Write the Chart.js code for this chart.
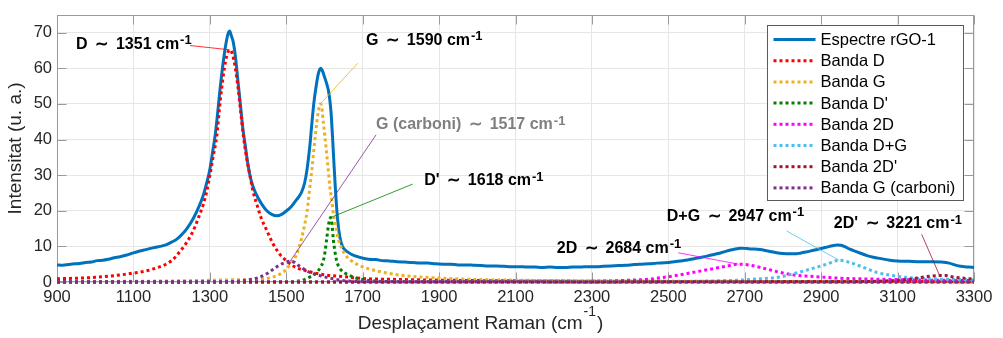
<!DOCTYPE html>
<html>
<head>
<meta charset="utf-8">
<script src="https://cdn.jsdelivr.net/npm/chart.js@4"></script>
<style>
  html, body { margin: 0; padding: 0; background: #fff; }
</style>
</head>
<body>
<canvas id="ramanChart" width="1003" height="338"></canvas>
<script>
// ===== Espectre Raman rGO-1 amb la deconvolució en bandes =====

const FONT = '"Liberation Sans", Arial, Helvetica, sans-serif';
const INK = '#262626';

// Eixos
const xTickValues = [900, 1100, 1300, 1500, 1700, 1900, 2100, 2300, 2500, 2700, 2900, 3100, 3300];
const yTickValues = [0, 10, 20, 30, 40, 50, 60, 70];

// Espectre mesurat
const spectreX = [
  900, 915, 930, 945, 960, 975, 990, 1005, 1020, 1035, 1050, 1065, 1080, 1095, 1110, 1125, 1140, 1155, 1170, 1185,
  1200, 1212, 1222, 1240, 1257, 1270, 1283, 1292, 1300, 1307, 1314, 1320, 1327, 1335, 1342, 1348, 1352, 1356, 1361, 1367,
  1373, 1380, 1386, 1393, 1399, 1405, 1413, 1422, 1435, 1449, 1462, 1475, 1488, 1501, 1514, 1527, 1540, 1548, 1554, 1562,
  1567, 1572, 1578, 1584, 1590, 1595, 1600, 1606, 1612, 1617, 1621, 1625, 1629, 1634, 1640, 1647, 1655, 1670, 1690, 1715,
  1735, 1750, 1770, 1790, 1810, 1830, 1850, 1870, 1890, 1910, 1930, 1950, 1970, 1990, 2010, 2030, 2050, 2070, 2090, 2110,
  2130, 2150, 2170, 2190, 2210, 2230, 2250, 2270, 2290, 2310, 2330, 2350, 2370, 2390, 2410, 2430, 2450, 2470, 2490, 2510,
  2530, 2550, 2570, 2590, 2610, 2630, 2650, 2670, 2690, 2705, 2720, 2740, 2760, 2780, 2800, 2815, 2830, 2845, 2860, 2880,
  2900, 2915, 2930, 2942, 2952, 2962, 2975, 2990, 3005, 3020, 3040, 3060, 3080, 3100, 3130, 3160, 3190, 3215, 3235, 3250,
  3265, 3285, 3300
];
const spectreY = [
  4.8, 4.7, 4.9, 5.1, 5.2, 5.5, 5.6, 6.0, 6.1, 6.4, 6.8, 7.1, 7.5, 8.0, 8.5, 8.9, 9.3, 9.7, 10.0, 10.4,
  11.2, 11.9, 12.8, 15.0, 17.9, 20.8, 24.4, 27.9, 31.6, 36.3, 41.2, 47.0, 54.4, 61.7, 66.8, 69.8, 70.5, 69.2, 67.5, 63.3,
  57.0, 49.9, 43.5, 38.1, 33.5, 29.9, 26.8, 24.5, 22.0, 20.0, 19.0, 18.6, 19.0, 20.0, 21.3, 23.1, 25.2, 27.8, 31.3, 38.5,
  44.5, 50.0, 54.8, 58.5, 60.0, 59.2, 57.6, 55.6, 52.8, 48.0, 41.0, 33.0, 25.5, 18.0, 12.8, 10.0, 8.9, 7.8, 7.0, 6.4,
  6.3, 6.0, 5.9, 5.7, 5.6, 5.5, 5.3, 5.3, 5.1, 5.0, 5.0, 4.8, 4.8, 4.7, 4.6, 4.5, 4.5, 4.4, 4.3, 4.3,
  4.2, 4.2, 4.1, 4.2, 4.1, 4.1, 4.2, 4.2, 4.3, 4.3, 4.4, 4.5, 4.6, 4.7, 4.9, 5.0, 5.1, 5.3, 5.4, 5.6,
  5.9, 6.2, 6.6, 7.0, 7.5, 8.0, 8.6, 9.1, 9.5, 9.4, 9.3, 9.1, 8.7, 8.3, 8.0, 7.9, 7.9, 8.1, 8.4, 8.9,
  9.4, 9.8, 10.2, 10.4, 10.3, 9.9, 9.2, 8.6, 8.0, 7.4, 6.9, 6.5, 6.1, 5.9, 5.8, 5.7, 5.7, 5.6, 5.3, 4.8,
  4.4, 4.2, 4.1
];

// Bandes ajustades
const bandaDX = [900, 1000, 1100, 1150, 1200, 1222, 1240, 1257, 1270, 1283, 1292, 1300, 1310, 1318, 1325, 1331, 1338, 1345, 1352, 1359,
  1366, 1374, 1381, 1388, 1396, 1405, 1413, 1423, 1435, 1449, 1465, 1484, 1500, 1518, 1550, 1600, 1650, 1700, 1800, 2000, 2400, 3300];
const bandaDY = [0.9, 1.3, 2.5, 3.6, 6.0, 8.6, 11.2, 14.5, 18.0, 21.8, 25.5, 29.9, 36.0, 40.8, 48.5, 54.4, 60.0, 63.8, 65.2, 64.0,
  60.5, 54.4, 47.5, 40.8, 35.0, 29.9, 25.5, 21.8, 17.8, 14.5, 10.8, 7.7, 6.0, 4.5, 3.2, 2.0, 1.5, 1.0, 0.7, 0.4, 0.2, 0.1];

const bandaGX = [900, 1200, 1350, 1420, 1450, 1480, 1500, 1510, 1527, 1540, 1548, 1554, 1558, 1562, 1567, 1571, 1576, 1580, 1585, 1589,
  1593, 1597, 1601, 1606, 1610, 1614, 1619, 1623, 1629, 1636, 1645, 1654, 1670, 1684, 1719, 1760, 1800, 1900, 2000, 2200, 2600, 3300];
const bandaGY = [0.1, 0.3, 0.6, 0.8, 1.0, 2.0, 3.5, 5.0, 7.7, 12.2, 16.0, 19.5, 23.0, 26.8, 31.5, 35.8, 41.0, 44.9, 48.6, 50.0,
  49.0, 44.9, 41.0, 35.8, 31.5, 26.8, 23.0, 19.5, 16.0, 12.2, 9.5, 7.7, 6.0, 5.0, 3.6, 2.6, 1.9, 1.1, 0.7, 0.4, 0.2, 0.1];

const bandaDpX = [900, 1500, 1545, 1565, 1580, 1590, 1597, 1602, 1606, 1611, 1616, 1620, 1623, 1627, 1632, 1638, 1645, 1660, 1675, 1710, 1800, 3300];
const bandaDpY = [0, 0, 0.6, 1.6, 2.7, 4.2, 5.9, 8.8, 12.2, 16.3, 18.1, 16.0, 12.2, 8.8, 5.9, 4.2, 3.2, 2.1, 1.4, 0.5, 0.1, 0];

const banda2DX = [900, 2200, 2350, 2400, 2450, 2480, 2520, 2565, 2610, 2650, 2684, 2710, 2740, 2770, 2792, 2827, 2870, 2914, 2960, 3000, 3088, 3200, 3300];
const banda2DY = [0, 0.1, 0.3, 0.5, 0.8, 1.2, 1.8, 2.7, 3.6, 4.4, 5.0, 4.8, 4.1, 3.3, 2.7, 2.0, 1.6, 1.3, 1.0, 0.9, 0.7, 0.5, 0.4];

const bandaDGX = [900, 2500, 2650, 2700, 2740, 2792, 2827, 2871, 2914, 2947, 2975, 3001, 3045, 3088, 3130, 3175, 3263, 3300];
const bandaDGY = [0, 0.1, 0.4, 0.6, 0.9, 1.4, 2.3, 3.6, 5.0, 6.1, 5.5, 4.5, 2.7, 1.8, 1.2, 0.9, 0.7, 0.6];

const banda2DpX = [900, 3000, 3100, 3140, 3175, 3210, 3225, 3245, 3270, 3300];
const banda2DpY = [0, 0.1, 0.5, 0.9, 1.5, 1.8, 1.8, 1.4, 1.1, 0.8];

const bandaGcX = [900, 1300, 1350, 1396, 1420, 1431, 1450, 1466, 1480, 1495, 1510, 1520, 1536, 1550, 1562, 1575, 1588, 1605, 1623, 1658, 1700, 3300];
const bandaGcY = [0, 0, 0.1, 0.5, 1.0, 1.4, 2.4, 3.6, 4.6, 5.4, 5.8, 5.6, 4.3, 3.4, 2.7, 2.2, 1.8, 1.3, 0.9, 0.3, 0.1, 0];

const bandes = [
  { label: 'Banda D', color: '#FF0000', xs: bandaDX, ys: bandaDY },
  { label: 'Banda G', color: '#EDB120', xs: bandaGX, ys: bandaGY },
  { label: "Banda D'", color: '#008000', xs: bandaDpX, ys: bandaDpY },
  { label: 'Banda 2D', color: '#FF00FF', xs: banda2DX, ys: banda2DY },
  { label: 'Banda D+G', color: '#4DBEEE', xs: bandaDGX, ys: bandaDGY },
  { label: "Banda 2D'", color: '#A2142F', xs: banda2DpX, ys: banda2DpY },
  { label: 'Banda G (carboni)', color: '#7E2F8E', xs: bandaGcX, ys: bandaGcY },
];

// Etiquetes de pic: posició del text i inici de la línia guia (unitats de dades)
const SIM = '\u2009\u223C\u2009';
const etiquetes = [
  { text: 'D ' + SIM + ' 1351 cm', band: 0, at: [950, 65.5], from: [1248, 66.4], color: '#000' },
  { text: 'G ' + SIM + ' 1590 cm', band: 1, at: [1709, 66.6], from: [1687, 61.4], color: '#000' },
  { text: 'G (carboni) ' + SIM + ' 1517 cm', band: 6, at: [1735, 42.9], from: [1735, 41.3], color: '#7f7f7f' },
  { text: "D' " + SIM + ' 1618 cm', band: 2, at: [1861, 27.2], from: [1831, 27.5], color: '#000' },
  { text: '2D ' + SIM + ' 2684 cm', band: 3, at: [2208, 8.2], from: [2526, 8.2], color: '#000' },
  { text: 'D+G ' + SIM + ' 2947 cm', band: 4, at: [2496, 17.2], from: [2810, 14.3], color: '#000' },
  { text: "2D' " + SIM + ' 3221 cm', band: 5, at: [2933, 15.1], from: [3163, 13.4], color: '#000' },
];

const toPoints = (xs, ys) => xs.map((x, i) => ({ x, y: ys[i] }));

function peakOf(b) {
  let k = 0;
  b.ys.forEach((v, i) => { if (v > b.ys[k]) k = i; });
  return [b.xs[k], b.ys[k]];
}

// Text amb exponent (p. ex. cm^-1)
function drawSup(ctx, x, y, main, sup, tail, size, supSize, rise, weight, centered) {
  const f = s => `${weight} ${s}px ${FONT}`;
  ctx.font = f(size);
  const w1 = ctx.measureText(main).width;
  const w3 = tail ? ctx.measureText(tail).width : 0;
  ctx.font = f(supSize);
  const w2 = ctx.measureText(sup).width;
  const x0 = centered ? x - (w1 + w2 + w3 + 2) / 2 : x;
  ctx.textAlign = 'left';
  ctx.textBaseline = 'alphabetic';
  ctx.font = f(size);
  ctx.fillText(main, x0, y);
  ctx.font = f(supSize);
  ctx.fillText(sup, x0 + w1 + 1, y - rise);
  if (tail) {
    ctx.font = f(size);
    ctx.fillText(tail, x0 + w1 + w2 + 2, y);
  }
}

// Marc de l'eix i marques interiors
const framePlugin = {
  id: 'frame',
  beforeDatasetsDraw(chart) {
    const { ctx, chartArea: a, scales: { x, y } } = chart;
    const L = Math.round(a.left) + 0.5, R = Math.round(a.right) - 0.5;
    const T = Math.round(a.top) + 0.5, B = Math.round(a.bottom) - 0.5;
    ctx.save();
    ctx.strokeStyle = '#9a9a9a';
    ctx.lineWidth = 1;
    ctx.strokeRect(L, T, R - L, B - T);
    ctx.beginPath();
    xTickValues.forEach(v => {
      const px = Math.round(x.getPixelForValue(v)) + 0.5;
      ctx.moveTo(px, B); ctx.lineTo(px, B - 9);
      ctx.moveTo(px, T); ctx.lineTo(px, T + 9);
    });
    yTickValues.forEach(v => {
      const py = Math.round(y.getPixelForValue(v)) + 0.5;
      ctx.moveTo(L, py); ctx.lineTo(L + 9, py);
      ctx.moveTo(R, py); ctx.lineTo(R - 9, py);
    });
    ctx.stroke();
    ctx.restore();
  },
  afterDraw(chart) {
    const { ctx, chartArea: a } = chart;
    ctx.save();
    ctx.fillStyle = INK;
    // títol de l'eix x
    drawSup(ctx, (a.left + a.right) / 2 - 35, chart.height - 9,
      'Desplaçament Raman (cm', '-1', ')', 19, 14, 13, 'normal', true);
    // títol de l'eix y
    ctx.translate(20.5, (a.top + a.bottom) / 2);
    ctx.rotate(-Math.PI / 2);
    ctx.font = `19px ${FONT}`;
    ctx.textAlign = 'center';
    ctx.textBaseline = 'alphabetic';
    ctx.fillText('Intensitat (u. a.)', 0, 0);
    ctx.restore();
  }
};

// Llegenda dins l'àrea del gràfic
const legendPlugin = {
  id: 'insideLegend',
  afterDatasetsDraw(chart) {
    const { ctx, chartArea: a } = chart;
    const left = Math.round(a.right - 207) + 0.5, top = Math.round(a.top + 10) + 0.5;
    const w = 196, h = 175, row = 21.2;
    ctx.save();
    ctx.fillStyle = '#fff';
    ctx.fillRect(left, top, w, h);
    ctx.strokeStyle = '#5a5a5a';
    ctx.lineWidth = 1;
    ctx.strokeRect(left, top, w, h);
    chart.data.datasets.forEach((ds, i) => {
      const cy = top + 14 + i * row;
      ctx.beginPath();
      ctx.strokeStyle = ds.borderColor;
      ctx.lineWidth = ds.borderWidth;
      ctx.setLineDash(ds.borderDash || []);
      ctx.moveTo(left + 6, cy);
      ctx.lineTo(left + 48, cy);
      ctx.stroke();
      ctx.setLineDash([]);
      ctx.fillStyle = '#000';
      ctx.font = `16.5px ${FONT}`;
      ctx.textAlign = 'left';
      ctx.textBaseline = 'middle';
      ctx.fillText(ds.label, left + 53, cy + 1);
    });
    ctx.restore();
  }
};

// Etiquetes dels pics amb línia guia
const labelPlugin = {
  id: 'peakLabels',
  afterDraw(chart) {
    const { ctx, scales: { x, y } } = chart;
    ctx.save();
    etiquetes.forEach(e => {
      const b = bandes[e.band];
      const [px, py] = peakOf(b);
      ctx.beginPath();
      ctx.strokeStyle = b.color;
      ctx.lineWidth = 0.8;
      ctx.moveTo(x.getPixelForValue(e.from[0]), y.getPixelForValue(e.from[1]));
      ctx.lineTo(x.getPixelForValue(px), y.getPixelForValue(py));
      ctx.stroke();
      ctx.fillStyle = e.color;
      drawSup(ctx, x.getPixelForValue(e.at[0]), y.getPixelForValue(e.at[1]),
        e.text, '-1', '', 16, 13, 4.5, 'bold', false);
    });
    ctx.restore();
  }
};

const datasets = [{
  label: 'Espectre rGO-1',
  data: toPoints(spectreX, spectreY),
  borderColor: '#0072BD',
  borderWidth: 3,
  order: 20,
}].concat(bandes.map((b, i) => ({
  label: b.label,
  data: toPoints(b.xs, b.ys),
  borderColor: b.color,
  borderWidth: 3,
  borderDash: [3, 3],
  order: 10 - i,
})));

datasets.forEach(ds => {
  ds.pointRadius = 0;
  ds.fill = false;
  ds.cubicInterpolationMode = 'monotone';
  ds.clip = 4;
});

new Chart(document.getElementById('ramanChart'), {
  type: 'line',
  data: { datasets },
  options: {
    responsive: false,
    devicePixelRatio: 1,
    animation: false,
    layout: { padding: { top: 6, right: 29, left: 0, bottom: 0 } },
    plugins: {
      legend: { display: false },
      tooltip: { enabled: false },
    },
    scales: {
      x: {
        type: 'linear',
        min: 900,
        max: 3300,
        afterBuildTicks: s => { s.ticks = xTickValues.map(v => ({ value: v })); },
        afterFit: s => { s.height = 56; },
        grid: { color: '#e6e6e6', drawTicks: false },
        border: { display: false },
        ticks: {
          color: INK, padding: 6, maxRotation: 0,
          font: { size: 16.5, family: FONT },
          callback: v => String(v),
        },
      },
      y: {
        min: 0,
        max: 75,
        afterBuildTicks: s => { s.ticks = yTickValues.map(v => ({ value: v })); },
        afterFit: s => { s.width = 57; },
        grid: { color: '#e6e6e6', drawTicks: false },
        border: { display: false },
        ticks: {
          color: INK, padding: 5,
          font: { size: 16.5, family: FONT },
          callback: v => String(v),
        },
      }
    }
  },
  plugins: [framePlugin, legendPlugin, labelPlugin],
});
</script>
</body>
</html>
